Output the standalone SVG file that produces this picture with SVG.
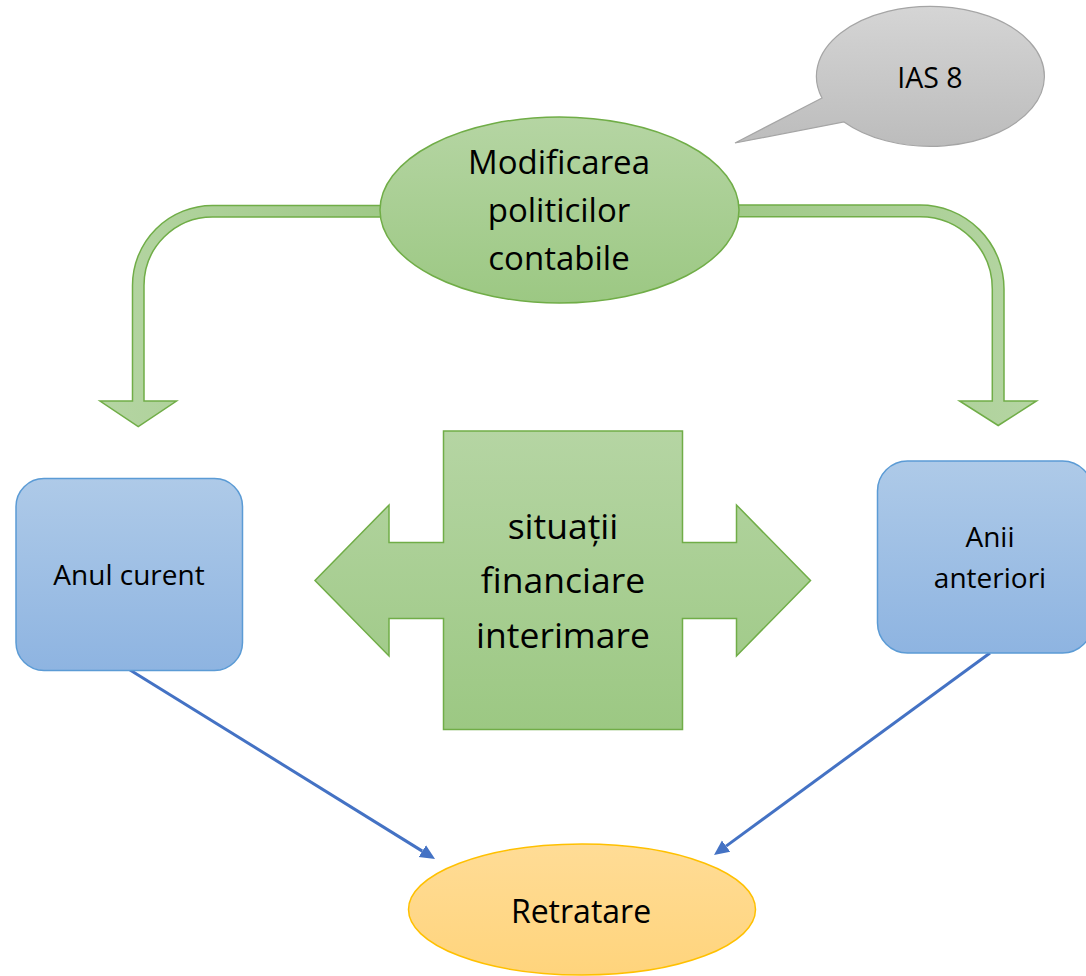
<svg xmlns="http://www.w3.org/2000/svg" width="1086" height="976" viewBox="0 0 1086 976">
  <defs>
    <linearGradient id="gGreenV" x1="0" y1="0" x2="0" y2="1">
      <stop offset="0" stop-color="#b5d5a3"/>
      <stop offset="1" stop-color="#9cc883"/>
    </linearGradient>
    <linearGradient id="gGreenL" x1="0" y1="0" x2="1" y2="0">
      <stop offset="0" stop-color="#b5d5a3"/>
      <stop offset="1" stop-color="#9fc987"/>
    </linearGradient>
    <linearGradient id="gGreenR" x1="1" y1="0" x2="0" y2="0">
      <stop offset="0" stop-color="#b5d5a3"/>
      <stop offset="1" stop-color="#9fc987"/>
    </linearGradient>
    <linearGradient id="gBlue" x1="0" y1="0" x2="0" y2="1">
      <stop offset="0" stop-color="#aecae8"/>
      <stop offset="1" stop-color="#8eb4e1"/>
    </linearGradient>
    <linearGradient id="gGold" x1="0" y1="0" x2="0" y2="1">
      <stop offset="0" stop-color="#ffdc96"/>
      <stop offset="1" stop-color="#ffd47c"/>
    </linearGradient>
    <linearGradient id="gGrey" x1="0" y1="0" x2="0" y2="1">
      <stop offset="0" stop-color="#d5d5d5"/>
      <stop offset="1" stop-color="#bcbcbc"/>
    </linearGradient>
    <marker id="arrowBlue" markerUnits="userSpaceOnUse" markerWidth="17" markerHeight="16" viewBox="0 -8 17 16" refX="0" refY="0" orient="auto">
      <path d="M0,-7 L15,0 L0,7 Z" fill="#4472c4"/>
    </marker>
  </defs>
  <style>
    .txt { font-family: "Open Sans", "Liberation Sans", sans-serif; fill: #000; text-anchor: middle; }
    .green { stroke: #70ad47; stroke-width: 1.5; }
    .blue { fill: url(#gBlue); stroke: #5b9bd5; stroke-width: 1.5; }
    .link { stroke: #4472c4; stroke-width: 3; fill: none; }
  </style>
  <rect width="1086" height="976" fill="#ffffff"/>

  <g id="connectors">
    <path id="bent-left" class="green" fill="url(#gGreenL)" d="M 390 205.5 L 212.5 205.5 A 80 80 0 0 0 132.5 285.5 L 132.5 401 L 100 401 L 138.25 426.5 L 176.5 401 L 144 401 L 144 285.5 A 68.5 68.5 0 0 1 212.5 217 L 390 217 Z"/>
    <path id="bent-right" class="green" fill="url(#gGreenR)" d="M 730 205 L 920 205 A 84 84 0 0 1 1004 289 L 1004 401 L 1036.5 401 L 998.2 425.5 L 959.5 401 L 992.3 401 L 992.3 289 A 72.3 72.3 0 0 0 920 216.7 L 730 216.7 Z"/>
    <line class="link" x1="130" y1="670" x2="422.3" y2="851.1" marker-end="url(#arrowBlue)"/>
    <line class="link" x1="990" y1="653" x2="726.1" y2="846.1" marker-end="url(#arrowBlue)"/>
  </g>

  <g id="node-ias8">
    <path d="M 822 98 L 735 143 L 844 122 A 114 70 0 1 0 822 98 Z" fill="url(#gGrey)" stroke="#a5a5a5" stroke-width="1.2"/>
    <text class="txt" x="930" y="88" font-size="28.5">IAS 8</text>
  </g>

  <g id="node-modificarea">
    <ellipse cx="559.5" cy="210" rx="179.5" ry="93" fill="url(#gGreenV)" class="green"/>
    <text class="txt" x="559" y="174" font-size="33">Modificarea</text>
    <text class="txt" x="559" y="222" font-size="33">politicilor</text>
    <text class="txt" x="559" y="270" font-size="33">contabile</text>
  </g>

  <g id="node-situatii">
    <polygon class="green" fill="url(#gGreenV)" points="443.5,431 682.5,431 682.5,542.5 736.5,542.5 736.5,505 810.5,580.5 736.5,656 736.5,618.5 682.5,618.5 682.5,729.5 443.5,729.5 443.5,618.5 389,618.5 389,656 315,580.5 389,505 389,542.5 443.5,542.5"/>
    <text class="txt" x="563" y="539" font-size="35.5">situații</text>
    <text class="txt" x="563" y="593" font-size="35.5">financiare</text>
    <text class="txt" x="563" y="648" font-size="35.5">interimare</text>
  </g>

  <g id="node-anul-curent">
    <rect class="blue" x="16" y="478.5" width="226.5" height="192" rx="28" ry="28"/>
    <text class="txt" x="129" y="585" font-size="28">Anul curent</text>
  </g>

  <g id="node-anii-anteriori">
    <rect class="blue" x="877.5" y="461" width="215" height="192" rx="30" ry="30"/>
    <text class="txt" x="990" y="547" font-size="28">Anii</text>
    <text class="txt" x="990" y="588" font-size="28">anteriori</text>
  </g>

  <g id="node-retratare">
    <ellipse cx="582" cy="909.5" rx="173.5" ry="65.5" fill="url(#gGold)" stroke="#ffc000" stroke-width="1.5"/>
    <text class="txt" x="581" y="923" font-size="32">Retratare</text>
  </g>
</svg>
